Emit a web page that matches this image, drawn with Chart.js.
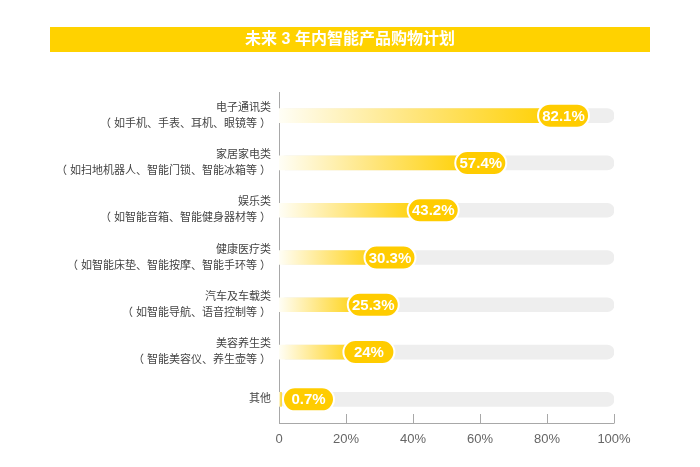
<!DOCTYPE html>
<html>
<head>
<meta charset="utf-8">
<script src="https://cdn.jsdelivr.net/npm/chart.js@4.4.1/dist/chart.umd.min.js"></script>
<style>
html,body{margin:0;padding:0;background:#fff;}
#wrap{position:relative;width:700px;height:467px;}
</style>
</head>
<body>
<div id="wrap"><canvas id="c" width="700" height="467"></canvas></div>
<script>
const titleText = '未来 3 年内智能产品购物计划';
const categories = [
  ['电子通讯类', '（ 如手机、手表、耳机、眼镜等 ）'],
  ['家居家电类', '（ 如扫地机器人、智能门锁、智能冰箱等 ）'],
  ['娱乐类', '（ 如智能音箱、智能健身器材等 ）'],
  ['健康医疗类', '（ 如智能床垫、智能按摩、智能手环等 ）'],
  ['汽车及车载类', '（ 如智能导航、语音控制等 ）'],
  ['美容养生类', '（ 智能美容仪、养生壶等 ）'],
  ['其他']
];
const values = [82.1, 57.4, 43.2, 30.3, 25.3, 24, 0.7];
const valueLabels = ['82.1%', '57.4%', '43.2%', '30.3%', '25.3%', '24%', '0.7%'];
const trackValues = [100, 100, 100, 100, 100, 100, 100];
const tickValues = [0, 20, 40, 60, 80, 100];
const tickLabels = ['0', '20%', '40%', '60%', '80%', '100%'];

const FONT = "'Liberation Sans', Arial, 'Noto Sans CJK SC', sans-serif";
const YELLOW = '#FFD000';
const PILL = '#FFCC00';

const bannerPlugin = {
  id: 'banner',
  beforeDraw(chart) {
    const c = chart.ctx;
    c.save();
    c.fillStyle = '#FFD200';
    c.fillRect(50, 27, 600, 25);
    c.fillStyle = '#fff';
    c.font = "bold 16px " + FONT;
    c.textAlign = 'center';
    c.textBaseline = 'middle';
    c.fillText(titleText, 350, 40);
    c.restore();
  }
};

const axisPlugin = {
  id: 'axisTicks',
  afterDraw(chart) {
    const c = chart.ctx;
    const xs = chart.scales.x;
    const ys = chart.scales.y;
    const yb = ys.bottom;
    c.save();
    c.strokeStyle = '#a8a8a8';
    c.lineWidth = 1;
    c.beginPath();
    c.moveTo(xs.getPixelForValue(0), yb + 0.5);
    c.lineTo(xs.getPixelForValue(100) + 0.5, yb + 0.5);
    c.stroke();
    tickValues.forEach(v => {
      if (v === 0) return;
      const x = Math.round(xs.getPixelForValue(v)) + 0.5;
      c.beginPath();
      c.moveTo(x, yb);
      c.lineTo(x, yb - 9);
      c.stroke();
    });
    c.restore();
  }
};

const pillPlugin = {
  id: 'pills',
  afterDatasetsDraw(chart) {
    const c = chart.ctx;
    const xs = chart.scales.x;
    const ys = chart.scales.y;
    const x0 = xs.getPixelForValue(0);
    c.save();
    values.forEach((v, i) => {
      const xe = xs.getPixelForValue(v);
      const yc = ys.getPixelForValue(i);
      const w = 51, h = 24, r = 12;
      const left = Math.max(xe - 16, x0 + 4);
      c.beginPath();
      c.roundRect(left, yc - h / 2, w, h, r);
      c.fillStyle = PILL;
      c.fill();
      c.lineWidth = 2;
      c.strokeStyle = '#fff';
      c.stroke();
      c.fillStyle = '#fff';
      c.font = "bold 15px " + FONT;
      c.textAlign = 'center';
      c.textBaseline = 'middle';
      c.fillText(valueLabels[i], left + w / 2, yc + 1);
    });
    c.restore();
  }
};

function barGradient(ctx) {
  const chart = ctx.chart;
  if (!chart.chartArea || ctx.raw === undefined) return YELLOW;
  const xs = chart.scales.x;
  const a = xs.getPixelForValue(0);
  const b = xs.getPixelForValue(ctx.raw);
  if (b - a < 1) return YELLOW;
  const g = chart.ctx.createLinearGradient(a, 0, b, 0);
  g.addColorStop(0, '#FFFEF6');
  g.addColorStop(0.5, '#FFE57A');
  g.addColorStop(1, '#FFD000');
  return g;
}

new Chart(document.getElementById('c'), {
  type: 'bar',
  data: {
    labels: categories,
    datasets: [
      {
        label: 'value',
        data: values,
        backgroundColor: barGradient,
        barThickness: 14,
        grouped: false,
        order: 0,
        borderSkipped: false,
        borderRadius: 0
      },
      {
        label: 'track',
        data: trackValues,
        backgroundColor: '#eeeeee',
        barThickness: 14,
        grouped: false,
        order: 1,
        borderSkipped: false,
        borderRadius: 7
      }
    ]
  },
  options: {
    indexAxis: 'y',
    responsive: false,
    animation: false,
    devicePixelRatio: 1,
    layout: { padding: { left: 0, right: 86, top: 92, bottom: 14 } },
    plugins: {
      legend: { display: false },
      tooltip: { enabled: false },
      title: { display: false }
    },
    scales: {
      x: {
        min: 0,
        max: 100,
        afterFit(scale) { scale.height = 30; },
        afterBuildTicks(scale) { scale.ticks = tickValues.map(v => ({ value: v })); },
        grid: { display: false, drawTicks: false },
        border: { display: false },
        ticks: {
          padding: 9,
          color: '#666',
          font: { family: FONT, size: 13 },
          callback: (v) => tickLabels[tickValues.indexOf(v)]
        }
      },
      y: {
        afterFit(scale) { scale.width = 279; },
        grid: { display: false, drawTicks: false },
        border: { display: true, color: '#a8a8a8', width: 1 },
        ticks: {
          padding: 8,
          color: '#444',
          font: { family: FONT, size: 11, lineHeight: 1.45 },
          autoSkip: false
        }
      }
    }
  },
  plugins: [bannerPlugin, axisPlugin, pillPlugin]
});
</script>
</body>
</html>
